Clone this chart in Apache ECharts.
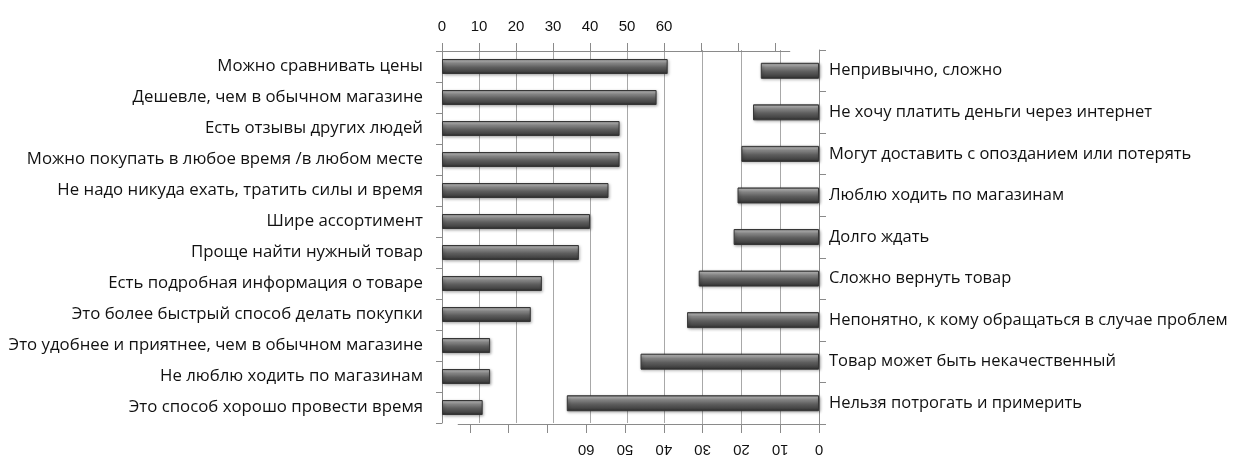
<!DOCTYPE html>
<html>
<head>
<meta charset="utf-8">
<script src="https://cdn.jsdelivr.net/npm/echarts@6/dist/echarts.min.js"></script>
<style>
  html, body { margin: 0; padding: 0; background: #ffffff; }
  #chart { width: 1236px; height: 457px; }
</style>
</head>
<body>
<div id="chart"></div>
<script>
// Reasons for buying online (left panel, scale at top)
const advantages = [
  'Можно сравнивать цены',
  'Дешевле, чем в обычном магазине',
  'Есть отзывы других людей',
  'Можно покупать в любое время /в любом месте',
  'Не надо никуда ехать, тратить силы и время',
  'Шире ассортимент',
  'Проще найти нужный товар',
  'Есть подробная информация о товаре',
  'Это более быстрый способ делать покупки',
  'Это удобнее и приятнее, чем в обычном магазине',
  'Не люблю ходить по магазинам',
  'Это способ хорошо провести время'
];
const advantageValues = [61, 58, 48, 48, 45, 40, 37, 27, 24, 13, 13, 11];

// Reasons against buying online (right panel, reversed scale at bottom)
const barriers = [
  'Непривычно, сложно',
  'Не хочу платить деньги через интернет',
  'Могут доставить с опозданием или потерять',
  'Люблю ходить по магазинам',
  'Долго ждать',
  'Сложно вернуть товар',
  'Непонятно, к кому обращаться в случае проблем',
  'Товар может быть некачественный',
  'Нельзя потрогать и примерить'
];
const barrierValues = [15, 17, 20, 21, 22, 31, 34, 46, 65];

// Scale settings: ticks every 10, labelled up to 60
const tickStep = 10;
const lastLabel = 60;
const leftMax = 94;
const rightMax = 93;

const NUM_FONT = 'Liberation Sans';
const CAT_FONT = 'Open Sans';
const TEXT = '#111111';
const AXIS_GREY = '#8a8a8a';
const GRID_GREY = '#a8a8a8';
const HIDE = 'rgba(0,0,0,0)';

const barFill = {
  type: 'linear', x: 0, y: 0, x2: 0, y2: 1,
  colorStops: [
    { offset: 0.00, color: '#444444' },
    { offset: 0.12, color: '#b4b4b4' },
    { offset: 0.28, color: '#858585' },
    { offset: 0.55, color: '#5e5e5e' },
    { offset: 0.85, color: '#424242' },
    { offset: 1.00, color: '#282828' }
  ]
};
const barItem = {
  color: barFill,
  borderColor: '#363636',
  borderWidth: 1,
  shadowBlur: 3,
  shadowOffsetX: 1,
  shadowOffsetY: 1,
  shadowColor: 'rgba(0,0,0,0.35)'
};

const numLabel = (v) => (v <= lastLabel && v % tickStep === 0 ? String(v) : '');

const chart = echarts.init(document.getElementById('chart'), null, { renderer: 'canvas' });
chart.setOption({
  animation: false,
  backgroundColor: '#ffffff',
  grid: [
    { left: 442, top: 51, width: leftMax * 3.7, height: 372, containLabel: false },
    { left: 819 - rightMax * 3.88, top: 50, width: rightMax * 3.88, height: 377, containLabel: false }
  ],
  xAxis: [
    {
      gridIndex: 0, type: 'value', position: 'top',
      min: 0, max: leftMax, interval: tickStep,
      axisLine: { show: true, lineStyle: { color: AXIS_GREY, width: 1 } },
      axisTick: { show: true, inside: false, length: 8, lineStyle: { color: AXIS_GREY } },
      axisLabel: { formatter: numLabel, margin: 17, fontFamily: NUM_FONT, fontSize: 15, color: TEXT, showMaxLabel: false },
      splitLine: {
        show: true, showMinLine: true, showMaxLine: false,
        lineStyle: { width: 1, color: [HIDE, GRID_GREY, GRID_GREY, GRID_GREY, GRID_GREY, GRID_GREY, GRID_GREY, HIDE, HIDE, HIDE, HIDE] }
      }
    },
    {
      gridIndex: 1, type: 'value', position: 'bottom', inverse: true,
      min: 0, max: rightMax, interval: tickStep,
      axisLine: { show: true, lineStyle: { color: AXIS_GREY, width: 1 } },
      axisTick: { show: true, inside: false, length: 9, lineStyle: { color: AXIS_GREY } },
      axisLabel: { formatter: numLabel, rotate: 180, margin: 18, fontFamily: NUM_FONT, fontSize: 15, color: TEXT, showMaxLabel: false },
      splitLine: {
        show: true, showMinLine: true, showMaxLine: false,
        lineStyle: { width: 1, color: [HIDE, GRID_GREY, GRID_GREY, GRID_GREY, HIDE, HIDE, HIDE, HIDE, HIDE, HIDE, HIDE] }
      }
    }
  ],
  yAxis: [
    {
      gridIndex: 0, type: 'category', position: 'left', inverse: true,
      data: advantages,
      axisLine: { show: true, lineStyle: { color: AXIS_GREY } },
      axisTick: { show: true, inside: false, length: 6, lineStyle: { color: AXIS_GREY } },
      axisLabel: { margin: 19, fontFamily: CAT_FONT, fontSize: 16.8, color: TEXT, interval: 0 },
      splitLine: { show: false }
    },
    {
      gridIndex: 1, type: 'category', position: 'right', inverse: true,
      data: barriers,
      axisLine: { show: true, lineStyle: { color: AXIS_GREY } },
      axisTick: { show: true, inside: false, length: 7, lineStyle: { color: AXIS_GREY } },
      axisLabel: { margin: 10, fontFamily: CAT_FONT, fontSize: 16.5, color: TEXT, interval: 0 },
      splitLine: { show: false }
    }
  ],
  series: [
    {
      type: 'bar', name: 'За', xAxisIndex: 0, yAxisIndex: 0,
      data: advantageValues, barWidth: 15, itemStyle: barItem
    },
    {
      type: 'bar', name: 'Против', xAxisIndex: 1, yAxisIndex: 1,
      data: barrierValues, barWidth: 16, itemStyle: barItem
    }
  ]
});
</script>
</body>
</html>
